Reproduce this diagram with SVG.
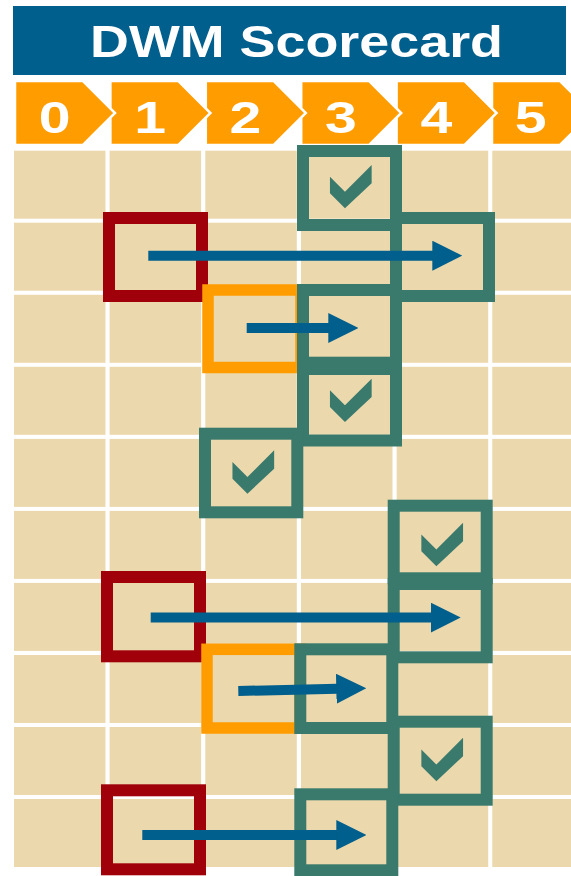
<svg xmlns="http://www.w3.org/2000/svg" xmlns:xlink="http://www.w3.org/1999/xlink" width="571" height="876" viewBox="0 0 571 876">
<style>
.cell{fill:#ebd8ad}
.chev{fill:#ff9c00;stroke:#ffffff;stroke-width:2.5;stroke-linejoin:miter}
.dig{font-family:"Liberation Sans",Arial,sans-serif;font-weight:bold;font-size:44px;fill:#ffffff;text-anchor:middle}
.title{font-family:"Liberation Sans",Arial,sans-serif;font-weight:bold;font-size:44px;fill:#ffffff}
.teal{fill:none;stroke:#3a7a6d;stroke-width:12}
.red{fill:none;stroke:#a0000a;stroke-width:12}
.org{fill:none;stroke:#ff9c00;stroke-width:11.5}
.chk{fill:#3a7a6d}
.arr{stroke:#005f8c;stroke-width:10;fill:none;marker-end:url(#ah)}
</style>
<defs>
<marker id="ah" markerUnits="userSpaceOnUse" viewBox="0 0 30 30" markerWidth="30" markerHeight="30" refX="1" refY="15" orient="auto">
<path d="M0,0 L30,15 L0,30 Z" fill="#005f8c"/>
</marker>
<path id="chkp" d="M-20.85,-9.95 L-20.85,6.65 L-5.85,21.65 L20.85,-3.35 L20.85,-21.65 L-5.85,5.05 Z"/>
</defs>
<rect width="571" height="876" fill="#ffffff"/>
<g id="title">
<rect x="13" y="6" width="553" height="69" fill="#005f8c"/>
<text class="title" x="90" y="56.7" textLength="413" lengthAdjust="spacingAndGlyphs">DWM Scorecard</text>
</g>
<g id="scale">
<polygon class="chev" points="492,81 560,81 592,113 560,145 492,145"/>
<polygon class="chev" points="396.6,81 464.6,81 496.6,113 464.6,145 396.6,145"/>
<polygon class="chev" points="301.2,81 369.2,81 401.2,113 369.2,145 301.2,145"/>
<polygon class="chev" points="205.8,81 273.8,81 305.8,113 273.8,145 205.8,145"/>
<polygon class="chev" points="110.4,81 178.4,81 210.4,113 178.4,145 110.4,145"/>
<polygon class="chev" points="15,81 83,81 115,113 83,145 15,145"/>
<text class="dig" transform="translate(54.7,132.7) scale(1.3,1)">0</text>
<text class="dig" transform="translate(150.1,132.7) scale(1.3,1)">1</text>
<text class="dig" transform="translate(245.5,132.7) scale(1.3,1)">2</text>
<text class="dig" transform="translate(340.9,132.7) scale(1.3,1)">3</text>
<text class="dig" transform="translate(436.3,132.7) scale(1.3,1)">4</text>
<text class="dig" transform="translate(530.7,132.7) scale(1.3,1)">5</text>
</g>
<g id="grid">
<rect class="cell" x="14" y="150.7" width="91.5" height="68"/><rect class="cell" x="109.6" y="150.7" width="91.5" height="68"/><rect class="cell" x="205.3" y="150.7" width="91.5" height="68"/><rect class="cell" x="301" y="150.7" width="91.5" height="68"/><rect class="cell" x="396.7" y="150.7" width="91.5" height="68"/><rect class="cell" x="492.3" y="150.7" width="80" height="68"/>
<rect class="cell" x="14" y="222.7" width="91.5" height="68"/><rect class="cell" x="109.6" y="222.7" width="91.5" height="68"/><rect class="cell" x="205.3" y="222.7" width="91.5" height="68"/><rect class="cell" x="301" y="222.7" width="91.5" height="68"/><rect class="cell" x="396.7" y="222.7" width="91.5" height="68"/><rect class="cell" x="492.3" y="222.7" width="80" height="68"/>
<rect class="cell" x="14" y="294.8" width="91.5" height="68"/><rect class="cell" x="109.6" y="294.8" width="91.5" height="68"/><rect class="cell" x="205.3" y="294.8" width="91.5" height="68"/><rect class="cell" x="301" y="294.8" width="91.5" height="68"/><rect class="cell" x="396.7" y="294.8" width="91.5" height="68"/><rect class="cell" x="492.3" y="294.8" width="80" height="68"/>
<rect class="cell" x="14" y="366.8" width="91.5" height="68"/><rect class="cell" x="109.6" y="366.8" width="91.5" height="68"/><rect class="cell" x="205.3" y="366.8" width="91.5" height="68"/><rect class="cell" x="301" y="366.8" width="91.5" height="68"/><rect class="cell" x="396.7" y="366.8" width="91.5" height="68"/><rect class="cell" x="492.3" y="366.8" width="80" height="68"/>
<rect class="cell" x="14" y="438.9" width="91.5" height="68"/><rect class="cell" x="109.6" y="438.9" width="91.5" height="68"/><rect class="cell" x="205.3" y="438.9" width="91.5" height="68"/><rect class="cell" x="301" y="438.9" width="91.5" height="68"/><rect class="cell" x="396.7" y="438.9" width="91.5" height="68"/><rect class="cell" x="492.3" y="438.9" width="80" height="68"/>
<rect class="cell" x="14" y="510.9" width="91.5" height="68"/><rect class="cell" x="109.6" y="510.9" width="91.5" height="68"/><rect class="cell" x="205.3" y="510.9" width="91.5" height="68"/><rect class="cell" x="301" y="510.9" width="91.5" height="68"/><rect class="cell" x="396.7" y="510.9" width="91.5" height="68"/><rect class="cell" x="492.3" y="510.9" width="80" height="68"/>
<rect class="cell" x="14" y="582.9" width="91.5" height="68"/><rect class="cell" x="109.6" y="582.9" width="91.5" height="68"/><rect class="cell" x="205.3" y="582.9" width="91.5" height="68"/><rect class="cell" x="301" y="582.9" width="91.5" height="68"/><rect class="cell" x="396.7" y="582.9" width="91.5" height="68"/><rect class="cell" x="492.3" y="582.9" width="80" height="68"/>
<rect class="cell" x="14" y="655" width="91.5" height="68"/><rect class="cell" x="109.6" y="655" width="91.5" height="68"/><rect class="cell" x="205.3" y="655" width="91.5" height="68"/><rect class="cell" x="301" y="655" width="91.5" height="68"/><rect class="cell" x="396.7" y="655" width="91.5" height="68"/><rect class="cell" x="492.3" y="655" width="80" height="68"/>
<rect class="cell" x="14" y="727" width="91.5" height="68"/><rect class="cell" x="109.6" y="727" width="91.5" height="68"/><rect class="cell" x="205.3" y="727" width="91.5" height="68"/><rect class="cell" x="301" y="727" width="91.5" height="68"/><rect class="cell" x="396.7" y="727" width="91.5" height="68"/><rect class="cell" x="492.3" y="727" width="80" height="68"/>
<rect class="cell" x="14" y="799" width="91.5" height="68"/><rect class="cell" x="109.6" y="799" width="91.5" height="68"/><rect class="cell" x="205.3" y="799" width="91.5" height="68"/><rect class="cell" x="301" y="799" width="91.5" height="68"/><rect class="cell" x="396.7" y="799" width="91.5" height="68"/><rect class="cell" x="492.3" y="799" width="80" height="68"/>
</g>
<g id="red-r1"><rect class="red" x="109" y="218" width="93" height="78"/></g>
<g id="red-r6"><rect class="red" x="107" y="577" width="93" height="79.3"/></g>
<g id="red-r9"><rect class="red" x="107" y="790.3" width="93" height="79"/></g>
<g id="orange-r2"><rect class="org" x="208" y="290" width="93" height="77.5"/></g>
<g id="orange-r7"><rect class="org" x="207" y="649.3" width="93" height="78.7"/></g>
<g id="teal-r0"><rect class="teal" x="303" y="151" width="93" height="74"/><use xlink:href="#chkp" class="chk" x="350.8" y="186.6"/></g>
<g id="teal-r1"><rect class="teal" x="396" y="218" width="93" height="78"/></g>
<g id="teal-r2"><rect class="teal" x="303" y="290" width="93" height="72.7"/></g>
<g id="teal-r3"><rect class="teal" x="303" y="369" width="93" height="71.5"/><use xlink:href="#chkp" class="chk" x="350.8" y="400.3"/></g>
<g id="teal-r4"><rect class="teal" x="205" y="433.7" width="92.3" height="78.6"/><use xlink:href="#chkp" class="chk" x="253.3" y="472"/></g>
<g id="teal-r5"><rect class="teal" x="393.7" y="505.7" width="93" height="72.6"/><use xlink:href="#chkp" class="chk" x="442.2" y="544.5"/></g>
<g id="teal-r6"><rect class="teal" x="393.7" y="584" width="93" height="73.3"/></g>
<g id="teal-r7"><rect class="teal" x="300.3" y="649.3" width="92" height="78.7"/></g>
<g id="teal-r8"><rect class="teal" x="393.7" y="721.7" width="93" height="78"/><use xlink:href="#chkp" class="chk" x="442.2" y="759.5"/></g>
<g id="teal-r9"><rect class="teal" x="300.3" y="794.3" width="92" height="76"/></g>
<g id="connectors">
<line class="arr" x1="148.3" y1="255.7" x2="433.3" y2="255.7"/>
<line class="arr" x1="246.7" y1="328" x2="329.3" y2="328"/>
<line class="arr" x1="150.7" y1="617.6" x2="431.7" y2="617.6"/>
<line class="arr" x1="238.3" y1="691" x2="337.3" y2="688.8"/>
<line class="arr" x1="142.3" y1="835" x2="337.3" y2="835"/>
</g>
</svg>
